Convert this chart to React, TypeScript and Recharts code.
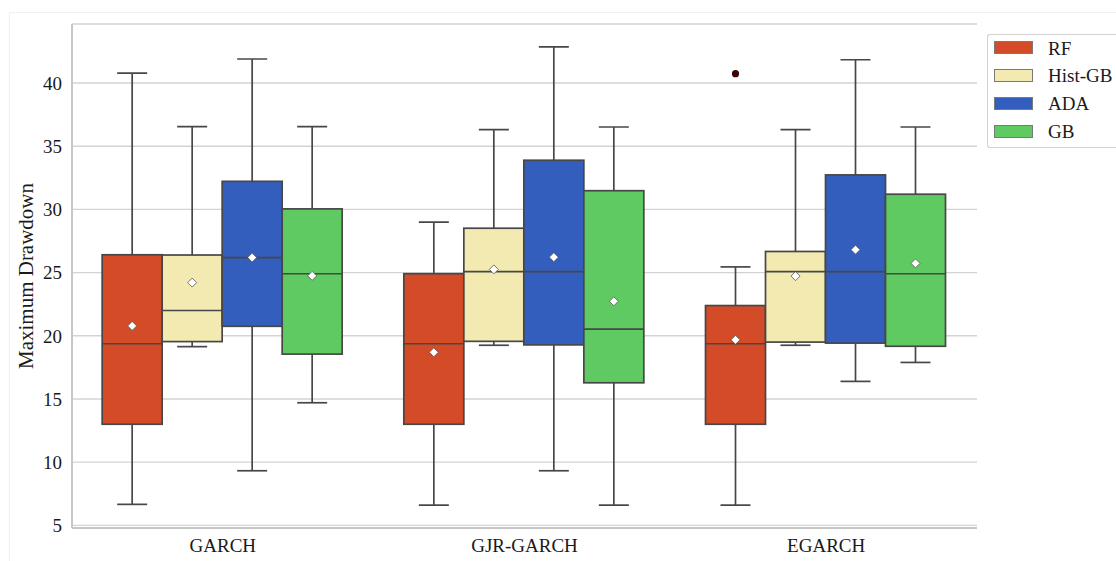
import React from 'react';
import { ComposedChart, Bar, XAxis, YAxis, CartesianGrid, Legend } from 'recharts';

const categories = ['GARCH', 'GJR-GARCH', 'EGARCH'];
const models = ['RF', 'Hist-GB', 'ADA', 'GB'];
const colors = ['#D44B27', '#F2EAB0', '#345EBE', '#5FC962'];
const yTicks = [5, 10, 15, 20, 25, 30, 35, 40];

// rows: model (RF, Hist-GB, ADA, GB); columns: category (GARCH, GJR-GARCH, EGARCH)
const whiskerLow = [
  [6.66, 6.6, 6.6],
  [19.14, 19.25, 19.25],
  [9.32, 9.32, 16.39],
  [14.7, 6.6, 17.89],
];
const q1 = [
  [13.0, 13.0, 13.0],
  [19.54, 19.56, 19.5],
  [20.75, 19.28, 19.42],
  [18.55, 16.28, 19.17],
];
const median = [
  [19.37, 19.37, 19.37],
  [22.0, 25.08, 25.08],
  [26.19, 25.08, 25.08],
  [24.91, 20.53, 24.91],
];
const q3 = [
  [26.41, 24.91, 22.39],
  [26.39, 28.51, 26.67],
  [32.22, 33.89, 32.73],
  [30.04, 31.48, 31.2],
];
const whiskerHigh = [
  [40.79, 28.99, 25.45],
  [36.55, 36.32, 36.32],
  [41.9, 42.86, 41.84],
  [36.55, 36.52, 36.52],
];
const means = [
  [20.78, 18.69, 19.68],
  [24.21, 25.25, 24.72],
  [26.19, 26.22, 26.81],
  [24.74, 22.73, 25.73],
];
const outliers: number[][][] = [
  [[], [], [40.74]],
  [[], [], []],
  [[], [], []],
  [[], [], []],
];

const tableData = categories.map((cat, ci) => {
  const row: any = { category: cat };
  models.forEach((m, mi) => {
    row[m] = [whiskerLow[mi][ci], whiskerHigh[mi][ci]];
  });
  return row;
});

const FONT = '"Liberation Serif", "Times New Roman", serif';
const EDGE = '#474747';
const FRAME = '#c6c6c6';

const makeBoxShape = (mi: number) => (props: any) => {
  const { x, y, width, height, payload } = props;
  let ci = typeof props.index === 'number' ? props.index : -1;
  if (payload && payload.category) ci = categories.indexOf(payload.category);
  if (ci < 0) return <g />;
  const lo = whiskerLow[mi][ci];
  const hi = whiskerHigh[mi][ci];
  const k = height / (hi - lo);
  const py = (v: number) => y + (hi - v) * k;
  const cx = x + width / 2;
  const capHalf = width / 4;
  const yq1 = py(q1[mi][ci]);
  const yq3 = py(q3[mi][ci]);
  const ymed = py(median[mi][ci]);
  const ymean = py(means[mi][ci]);
  const d = 4.5;
  return (
    <g>
      <line x1={cx} x2={cx} y1={py(hi)} y2={yq3} stroke={EDGE} strokeWidth={1.7} />
      <line x1={cx} x2={cx} y1={yq1} y2={py(lo)} stroke={EDGE} strokeWidth={1.7} />
      <line x1={cx - capHalf} x2={cx + capHalf} y1={py(hi)} y2={py(hi)} stroke={EDGE} strokeWidth={1.7} />
      <line x1={cx - capHalf} x2={cx + capHalf} y1={py(lo)} y2={py(lo)} stroke={EDGE} strokeWidth={1.7} />
      <rect x={x} y={yq3} width={width} height={yq1 - yq3} fill={colors[mi]} stroke={EDGE} strokeWidth={1.7} />
      <line x1={x} x2={x + width} y1={ymed} y2={ymed} stroke={EDGE} strokeWidth={1.7} />
      <path
        d={`M ${cx} ${ymean - d} L ${cx + d} ${ymean} L ${cx} ${ymean + d} L ${cx - d} ${ymean} Z`}
        fill="#ffffff"
        stroke="#555"
        strokeWidth={0.8}
      />
      {outliers[mi][ci].map((v, i) => (
        <circle key={i} cx={cx} cy={py(v)} r={3.6} fill="#3a0505" />
      ))}
    </g>
  );
};

const YLabel = (props: any) => {
  const vb = props.viewBox || { x: 0, y: 24, width: 72, height: 504 };
  const lx = (vb.x ?? 0) + 26;
  const ly = (vb.y ?? 24) + (vb.height ?? 504) / 2;
  return (
    <text
      x={lx}
      y={ly}
      transform={`rotate(-90 ${lx} ${ly})`}
      textAnchor="middle"
      dominantBaseline="central"
      fontFamily={FONT}
      fontSize={21}
      fill="#1a1a1a"
    >
      Maximum Drawdown
    </text>
  );
};

const LegendBox = () => (
  <div
    style={{
      position: 'relative',
      width: 129,
      height: 114,
      boxSizing: 'border-box',
      border: '1px solid #d2d2d2',
      borderRight: 'none',
      borderRadius: '3px 0 0 3px',
      background: '#ffffff',
      fontFamily: FONT,
    }}
  >
    {models.map((m, i) => {
      const c = 13.6 + i * 27.85;
      return (
        <React.Fragment key={m}>
          <div
            style={{
              position: 'absolute',
              left: 6,
              top: c - 6.5 - 1,
              width: 39,
              height: 13,
              boxSizing: 'border-box',
              background: colors[i],
              border: '1px solid #7a7a7a',
            }}
          />
          <span
            style={{
              position: 'absolute',
              left: 60,
              top: c - 1,
              transform: 'translateY(-50%)',
              fontSize: 19,
              lineHeight: 1,
              color: '#1a1a1a',
              whiteSpace: 'nowrap',
            }}
          >
            {m}
          </span>
        </React.Fragment>
      );
    })}
  </div>
);

export default function App() {
  return (
    <div
      style={{
        position: 'absolute',
        left: 0,
        top: 0,
        width: 1116,
        height: 561,
        overflow: 'hidden',
        background: '#ffffff',
      }}
    >
      <div
        style={{
          position: 'absolute',
          left: 9,
          top: 12,
          width: 1120,
          height: 560,
          borderLeft: '1px solid #f1f1f1',
          borderTop: '1px solid #f1f1f1',
        }}
      />
      <ComposedChart
        width={1116}
        height={561}
        data={tableData}
        margin={{ top: 24, right: 139, bottom: 0, left: 0 }}
        barCategoryGap="10%"
        barGap={0}
      >
        <CartesianGrid vertical={false} stroke="#d3d3d3" strokeWidth={1.4} />
        <XAxis
          dataKey="category"
          height={33}
          tickLine={false}
          tickSize={6}
          tickMargin={5}
          axisLine={{ stroke: FRAME, strokeWidth: 2 }}
          tick={{ fontFamily: FONT, fontSize: 19, fill: '#1a1a1a' }}
        />
        <XAxis
          xAxisId="top"
          dataKey="category"
          orientation="top"
          height={0}
          tick={false}
          tickLine={false}
          axisLine={{ stroke: FRAME, strokeWidth: 2 }}
        />
        <YAxis
          type="number"
          domain={[4.79, 44.67]}
          ticks={yTicks}
          allowDataOverflow
          width={72}
          tickLine={false}
          tickSize={6}
          tickMargin={4}
          axisLine={{ stroke: FRAME, strokeWidth: 2 }}
          tick={{ fontFamily: FONT, fontSize: 19, fill: '#1a1a1a' }}
          label={<YLabel />}
        />
        <YAxis
          yAxisId="right"
          orientation="right"
          type="number"
          domain={[4.79, 44.67]}
          allowDataOverflow
          width={0}
          tick={false}
          tickLine={false}
          axisLine={{ stroke: FRAME, strokeWidth: 2 }}
        />
        <Legend
          layout="vertical"
          align="center"
          verticalAlign="middle"
          wrapperStyle={{ left: 987, top: 34, width: 129 }}
          content={() => <LegendBox />}
        />
        {models.map((m, mi) => (
          <Bar
            key={m}
            dataKey={m}
            name={m}
            fill={colors[mi]}
            isAnimationActive={false}
            shape={makeBoxShape(mi)}
          />
        ))}
      </ComposedChart>
    </div>
  );
}
